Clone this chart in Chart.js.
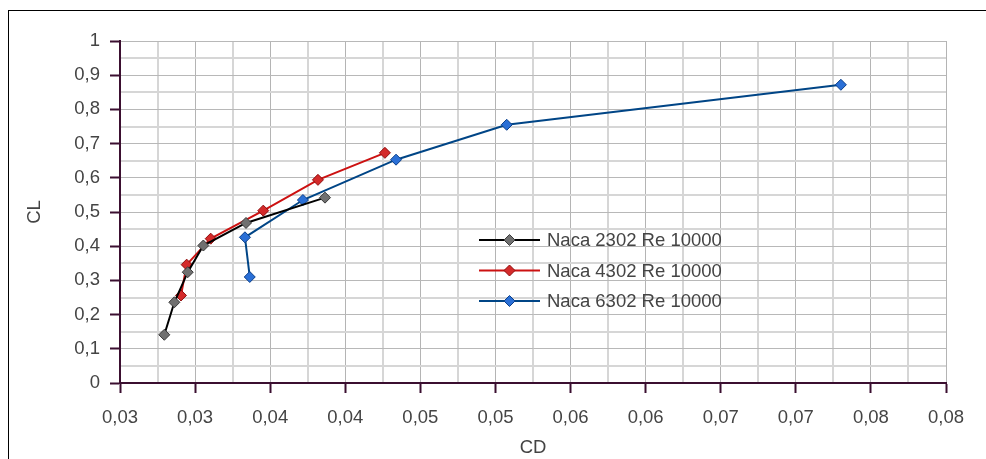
<!DOCTYPE html>
<html><head><meta charset="utf-8">
<script src="https://cdn.jsdelivr.net/npm/chart.js@4.4.1/dist/chart.umd.min.js"></script>
<style>html,body{margin:0;padding:0;background:#fff;}canvas{display:block}</style>
</head><body>
<canvas id="c" width="986" height="459"></canvas>
<script>
// ---- data ----
const seriesNames = ['Naca 2302 Re 10000', 'Naca 4302 Re 10000', 'Naca 6302 Re 10000'];
const cd2302 = [0.03295, 0.03362, 0.03451, 0.03555, 0.03839, 0.04365];
const cl2302 = [0.141, 0.236, 0.324, 0.402, 0.468, 0.542];
const cd4302 = [0.03406, 0.03444, 0.03604, 0.03954, 0.04318, 0.04764];
const cl4302 = [0.256, 0.346, 0.422, 0.504, 0.594, 0.673];
const cd6302 = [0.03864, 0.03832, 0.04218, 0.04838, 0.05575, 0.07800];
const cl6302 = [0.310, 0.426, 0.535, 0.653, 0.755, 0.872];

const xMajorTicks = [0.030, 0.035, 0.040, 0.045, 0.050, 0.055, 0.060, 0.065, 0.070, 0.075, 0.080, 0.085];
const xMajorLabels = ['0,03','0,03','0,04','0,04','0,05','0,05','0,06','0,06','0,07','0,07','0,08','0,08'];
const yMajorTicks = [0, 0.1, 0.2, 0.3, 0.4, 0.5, 0.6, 0.7, 0.8, 0.9, 1];
const yMajorLabels = ['0','0,1','0,2','0,3','0,4','0,5','0,6','0,7','0,8','0,9','1'];

const lineColors = ['#000000', '#cc1111', '#004586'];
const markerFill = ['#707070', '#d42a2a', '#2a6fd6'];
const markerEdge = ['#3a3a3a', '#8e0d0d', '#0b3f8a'];

function toPoints(xs, ys) { return xs.map((x, i) => ({x: x, y: ys[i]})); }
function withMinor(major) {
  const out = [];
  major.forEach((v, i) => {
    out.push({value: v});
    if (i < major.length - 1) out.push({value: (v + major[i + 1]) / 2});
  });
  return out;
}

const FONT = {family: "'Liberation Sans', Arial, sans-serif", size: 18.5};
const TEXT = '#444444';
const AXIS = '#3b0f30';

const datasets = [
  toPoints(cd2302, cl2302), toPoints(cd4302, cl4302), toPoints(cd6302, cl6302)
].map((pts, i) => ({
  label: seriesNames[i],
  data: pts,
  showLine: true,
  borderColor: lineColors[i],
  borderWidth: 2,
  pointStyle: 'rectRot',
  pointRadius: 5.5,
  pointBackgroundColor: markerFill[i],
  pointBorderColor: markerEdge[i],
  pointBorderWidth: 1,
  tension: 0
}));

function diamond(ctx, x, y, r) {
  ctx.beginPath();
  ctx.moveTo(x, y - r); ctx.lineTo(x + r, y); ctx.lineTo(x, y + r); ctx.lineTo(x - r, y);
  ctx.closePath();
}

const framePlugin = {
  id: 'frame',
  beforeDraw(chart) {
    const ctx = chart.ctx;
    ctx.save();
    ctx.fillStyle = '#fff';
    ctx.fillRect(0, 0, chart.width, chart.height);
    ctx.strokeStyle = '#000';
    ctx.lineWidth = 1;
    ctx.strokeRect(8.5, 10.5, 1100, 1100);
    ctx.restore();
  }
};

const legendPlugin = {
  id: 'innerLegend',
  afterDraw(chart) {
    const ctx = chart.ctx;
    ctx.save();
    chart.data.datasets.forEach((ds, i) => {
      const y = 240 + i * 30.5;
      ctx.strokeStyle = ds.borderColor;
      ctx.lineWidth = 2;
      ctx.beginPath(); ctx.moveTo(479, y); ctx.lineTo(540, y); ctx.stroke();
      diamond(ctx, 509.5, y, 5.5);
      ctx.fillStyle = ds.pointBackgroundColor; ctx.fill();
      ctx.strokeStyle = ds.pointBorderColor; ctx.lineWidth = 1; ctx.stroke();
      ctx.fillStyle = TEXT;
      ctx.font = FONT.size + 'px ' + FONT.family;
      ctx.textBaseline = 'middle';
      ctx.textAlign = 'left';
      ctx.fillText(ds.label, 547, y + 1);
    });
    ctx.restore();
  }
};

new Chart(document.getElementById('c'), {
  type: 'scatter',
  data: {datasets: datasets},
  options: {
    responsive: false,
    animation: false,
    layout: {padding: {top: 41, right: 40, left: 0, bottom: 0}},
    plugins: {legend: {display: false}, tooltip: {enabled: false}},
    scales: {
      x: {
        type: 'linear',
        min: 0.03, max: 0.085,
        afterBuildTicks: s => { s.ticks = withMinor(xMajorTicks); },
        afterFit: s => { s.height = 76; },
        ticks: {
          autoSkip: false, maxRotation: 0, padding: 14,
          color: TEXT, font: FONT,
          callback: (v, i) => (i % 2 === 0 ? xMajorLabels[i / 2] : '')
        },
        grid: {
          color: c => (c.index % 2 === 0 ? '#b4b4b4' : '#d6d6d6'),
          lineWidth: c => (c.index % 2 === 0 ? 1 : 2),
          tickColor: c => (c.index % 2 === 0 ? AXIS : 'rgba(0,0,0,0)'),
          tickLength: 10, tickWidth: 2
        },
        border: {color: AXIS, width: 2},
        title: {display: true, text: 'CD', color: TEXT, font: FONT, padding: {top: 0, bottom: 0}}
      },
      y: {
        type: 'linear',
        min: 0, max: 1,
        afterBuildTicks: s => { s.ticks = withMinor(yMajorTicks); },
        afterFit: s => { s.width = 120; },
        ticks: {
          autoSkip: false, padding: 10,
          color: TEXT, font: FONT,
          callback: (v, i) => (i % 2 === 0 ? yMajorLabels[i / 2] : '')
        },
        grid: {
          color: c => (c.index % 2 === 0 ? '#b8b8b8' : '#d6d6d6'),
          lineWidth: c => (c.index % 2 === 0 ? 1 : 2),
          tickColor: c => (c.index % 2 === 0 ? AXIS : 'rgba(0,0,0,0)'),
          tickLength: 10, tickWidth: 2
        },
        border: {color: AXIS, width: 2},
        title: {display: true, text: 'CL', color: TEXT, font: FONT, padding: {top: 24, bottom: 0}}
      }
    }
  },
  plugins: [framePlugin, legendPlugin]
});
</script>
</body></html>
